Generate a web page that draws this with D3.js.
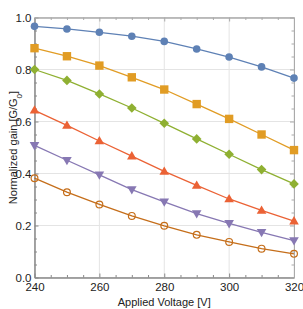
<!DOCTYPE html>
<html>
<head>
<meta charset="utf-8">
<script src="https://cdn.jsdelivr.net/npm/d3@7"></script>
<style>
body { margin: 0; background: #fff; }
text { font-family: "Liberation Sans", Arial, sans-serif; }
</style>
</head>
<body>
<div id="app"></div>
<script>
// data
var voltages = [240, 250, 260, 270, 280, 290, 300, 310, 320];
var blueCircles   = [0.966, 0.956, 0.943, 0.928, 0.908, 0.879, 0.848, 0.810, 0.767];
var orangeSquares = [0.882, 0.851, 0.815, 0.770, 0.723, 0.667, 0.610, 0.550, 0.490];
var greenDiamonds = [0.800, 0.758, 0.706, 0.652, 0.593, 0.533, 0.474, 0.415, 0.360];
var redTriangles  = [0.643, 0.585, 0.525, 0.467, 0.408, 0.354, 0.302, 0.258, 0.217];
var purpleDown    = [0.508, 0.451, 0.395, 0.338, 0.291, 0.246, 0.208, 0.174, 0.142];
var brownOpen     = [0.382, 0.328, 0.281, 0.237, 0.199, 0.164, 0.137, 0.111, 0.091];
var xTicks = [240, 260, 280, 300, 320];
var yTicks = [0, 0.2, 0.4, 0.6, 0.8, 1.0];

var svgWidth = 303, svgHeight = 309;
var margin = { top: 17.5, right: 9, bottom: 31.5, left: 34.5 };
var planeWidth = svgWidth - margin.left - margin.right;
var planeHeight = svgHeight - margin.top - margin.bottom;

var svg = d3.select('#app').append("svg")
    .attr("width", svgWidth)
    .attr("height", svgHeight);
var g = svg.append("g").attr("transform", "translate(" + margin.left + "," + margin.top + ")");

var x = d3.scaleLinear().domain([240, 320]).range([0, planeWidth]);
var y = d3.scaleLinear().domain([0, 1]).range([planeHeight, 0]);

// grid
var grid = g.append("g").attr("stroke", "#e4e4e4").attr("stroke-width", 1);
grid.selectAll(".gx").data(xTicks).enter().append("line")
    .attr("x1", function(d){ return x(d); }).attr("x2", function(d){ return x(d); })
    .attr("y1", 0).attr("y2", planeHeight);
grid.selectAll(".gy").data(yTicks).enter().append("line")
    .attr("x1", 0).attr("x2", planeWidth)
    .attr("y1", function(d){ return y(d); }).attr("y2", function(d){ return y(d); });

var xMinor = d3.range(240, 321, 5).filter(function(v){ return v % 20 !== 0; });
var yMinor = d3.range(0, 21).map(function(i){ return i * 0.05; }).filter(function(v, i){ return i % 4 !== 0; });

function styleAxis(sel, col) {
    sel.select(".domain").attr("stroke", col);
    sel.selectAll(".tick line").attr("stroke", col);
    sel.selectAll("text").attr("fill", "#222").style("font-size", "11.5px")
        .style("font-family", '"Liberation Sans", Arial, sans-serif');
}

// bottom + left axes
var bottomAxis = g.append("g").attr("transform", "translate(0," + planeHeight + ")")
    .call(d3.axisBottom(x).tickValues(xTicks).tickSize(-4).tickSizeOuter(0).tickPadding(5).tickFormat(d3.format("d")));
styleAxis(bottomAxis, "#888");
var bottomMinor = g.append("g").attr("transform", "translate(0," + planeHeight + ")")
    .call(d3.axisBottom(x).tickValues(xMinor).tickSize(-2.5).tickSizeOuter(0).tickFormat(""));
styleAxis(bottomMinor, "#888");

var leftAxis = g.append("g")
    .call(d3.axisLeft(y).tickValues(yTicks).tickSize(-4).tickSizeOuter(0).tickPadding(3).tickFormat(d3.format(".1f")));
styleAxis(leftAxis, "#888");
var leftMinor = g.append("g")
    .call(d3.axisLeft(y).tickValues(yMinor).tickSize(-2.5).tickSizeOuter(0).tickFormat(""));
styleAxis(leftMinor, "#888");

// top + right frame
var topAxis = g.append("g")
    .call(d3.axisTop(x).tickValues(xTicks).tickSize(-4).tickSizeOuter(0).tickFormat(""));
styleAxis(topAxis, "#aaa");
var topMinor = g.append("g")
    .call(d3.axisTop(x).tickValues(xMinor).tickSize(-2.5).tickSizeOuter(0).tickFormat(""));
styleAxis(topMinor, "#aaa");
var rightAxis = g.append("g").attr("transform", "translate(" + planeWidth + ",0)")
    .call(d3.axisRight(y).tickValues(yTicks).tickSize(-4).tickSizeOuter(0).tickFormat(""));
styleAxis(rightAxis, "#aaa");
var rightMinor = g.append("g").attr("transform", "translate(" + planeWidth + ",0)")
    .call(d3.axisRight(y).tickValues(yMinor).tickSize(-2.5).tickSizeOuter(0).tickFormat(""));
styleAxis(rightMinor, "#aaa");

// series
var series = [
    { values: blueCircles,   color: "#5e81b5", shape: "circle" },
    { values: orangeSquares, color: "#e19c24", shape: "square" },
    { values: greenDiamonds, color: "#8fb032", shape: "diamond" },
    { values: redTriangles,  color: "#eb6235", shape: "up" },
    { values: purpleDown,    color: "#8778b3", shape: "down" },
    { values: brownOpen,     color: "#c56e1a", shape: "open" }
];

var line = d3.line()
    .x(function(d, i){ return x(voltages[i]); })
    .y(function(d){ return y(d); });

function markerPath(shape) {
    if (shape === "square") return "M-4.2,-4.2H4.2V4.2H-4.2Z";
    if (shape === "diamond") return "M0,-4.8L4.8,0L0,4.8L-4.8,0Z";
    if (shape === "up") return "M0,-5L4.8,3.3H-4.8Z";
    if (shape === "down") return "M0,5L4.8,-3.3H-4.8Z";
    return null;
}

series.forEach(function(s) {
    g.append("path")
        .attr("d", line(s.values))
        .attr("fill", "none")
        .attr("stroke", s.color)
        .attr("stroke-width", 1.3);
    var pts = g.append("g").selectAll("g").data(s.values).enter().append("g")
        .attr("transform", function(d, i){ return "translate(" + x(voltages[i]) + "," + y(d) + ")"; });
    if (s.shape === "circle") {
        pts.append("circle").attr("r", 3.8).attr("fill", s.color);
    } else if (s.shape === "open") {
        pts.append("circle").attr("r", 3.4).attr("fill", "none").attr("stroke", s.color).attr("stroke-width", 1.2);
    } else {
        pts.append("path").attr("d", markerPath(s.shape)).attr("fill", s.color);
    }
});

// axis titles
svg.append("text")
    .attr("x", margin.left + planeWidth / 2)
    .attr("y", 306)
    .attr("text-anchor", "middle")
    .style("font-size", "11px")
    .attr("fill", "#222")
    .text("Applied Voltage [V]");

var yl = svg.append("text")
    .attr("transform", "translate(17," + (margin.top + planeHeight / 2) + ") rotate(-90)")
    .attr("text-anchor", "middle")
    .style("font-size", "11px")
    .attr("fill", "#222");
yl.append("tspan").text("Normalized gain [G/G");
yl.append("tspan").attr("baseline-shift", "sub").style("font-size", "8px").text("0");
yl.append("tspan").text("]");
</script>
</body>
</html>
